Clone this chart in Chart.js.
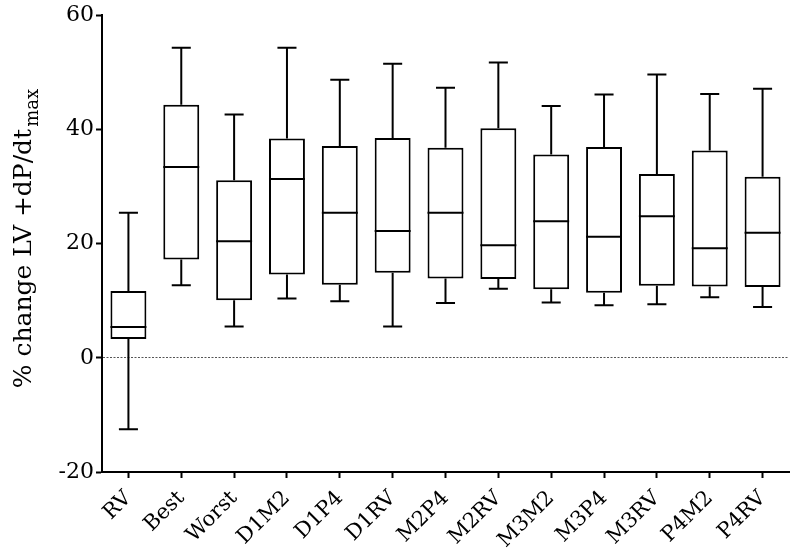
<!DOCTYPE html>
<html>
<head>
<meta charset="utf-8">
<script src="https://cdn.jsdelivr.net/npm/chart.js@4/dist/chart.umd.min.js"></script>
<style>
  html, body { margin: 0; padding: 0; background: #fff; }
  #wrap { width: 796px; height: 549px; }
</style>
</head>
<body>
<div id="wrap"><canvas id="myChart" width="796" height="549"></canvas></div>
<script>
// groups on the x axis
var categories = ["RV", "Best", "Worst", "D1M2", "D1P4", "D1RV", "M2P4", "M2RV", "M3M2", "M3P4", "M3RV", "P4M2", "P4RV"];

// box plot values (% change)
var maxVals = [25.4, 54.3, 42.6, 54.3, 48.7, 51.5, 47.3, 51.7, 44.1, 46.1, 49.6, 46.2, 47.1];
var q3Vals  = [11.7, 44.3, 31.1, 38.4, 37.1, 38.5, 36.8, 40.2, 35.6, 36.9, 32.2, 36.3, 31.7];
var medVals = [5.4, 33.4, 20.4, 31.3, 25.4, 22.2, 25.4, 19.7, 23.9, 21.2, 24.8, 19.2, 21.9];
var q1Vals  = [3.3, 17.2, 10.1, 14.6, 12.8, 14.9, 13.9, 13.8, 12.0, 11.4, 12.6, 12.5, 12.4];
var minVals = [-12.5, 12.7, 5.5, 10.4, 9.9, 5.5, 9.6, 12.1, 9.7, 9.2, 9.4, 10.6, 8.9];

var yTicks = [-20, 0, 20, 40, 60];

var boxData = [];
for (var i = 0; i < categories.length; i++) {
    boxData.push([q1Vals[i], q3Vals[i]]);
}

// whiskers, caps and median lines, placed with the chart's own scales
var whiskerPlugin = {
    id: 'whiskers',
    afterDatasetsDraw: function(chart) {
        var ctx = chart.ctx;
        var y = chart.scales.y;
        var meta = chart.getDatasetMeta(0);
        ctx.save();
        ctx.strokeStyle = '#000';
        ctx.lineWidth = 2;
        meta.data.forEach(function(bar, i) {
            var cx = bar.x;
            var half = bar.width / 2;
            var cap = half * 0.53;
            var yMax = y.getPixelForValue(maxVals[i]);
            var yQ3 = y.getPixelForValue(q3Vals[i]);
            var yMed = y.getPixelForValue(medVals[i]);
            var yQ1 = y.getPixelForValue(q1Vals[i]);
            var yMin = y.getPixelForValue(minVals[i]);
            ctx.beginPath();
            ctx.moveTo(cx, yQ3); ctx.lineTo(cx, yMax);
            ctx.moveTo(cx - cap, yMax); ctx.lineTo(cx + cap, yMax);
            ctx.moveTo(cx, yQ1); ctx.lineTo(cx, yMin);
            ctx.moveTo(cx - cap, yMin); ctx.lineTo(cx + cap, yMin);
            ctx.moveTo(cx - half, yMed); ctx.lineTo(cx + half, yMed);
            ctx.stroke();
        });
        ctx.restore();
    }
};

// y axis title with the "max" subscript
var titlePlugin = {
    id: 'ytitle',
    afterDraw: function(chart) {
        var ctx = chart.ctx;
        var area = chart.chartArea;
        var main = '% change LV +dP/dt';
        var sub = 'max';
        ctx.save();
        ctx.fillStyle = '#000';
        ctx.font = '25px "DejaVu Serif"';
        var w1 = ctx.measureText(main).width;
        ctx.font = '18px "DejaVu Serif"';
        var w2 = ctx.measureText(sub).width;
        var total = w1 + w2;
        ctx.translate(31, (area.top + area.bottom) / 2 - 4);
        ctx.rotate(-Math.PI / 2);
        ctx.textAlign = 'left';
        ctx.textBaseline = 'alphabetic';
        ctx.font = '25px "DejaVu Serif"';
        ctx.fillText(main, -total / 2, 0);
        ctx.font = '18px "DejaVu Serif"';
        ctx.fillText(sub, -total / 2 + w1 + 2, 7);
        ctx.restore();
    }
};

var myChart = new Chart("myChart", {
    type: 'bar',
    data: {
        labels: categories,
        datasets: [{
            data: boxData,
            backgroundColor: '#fff',
            borderColor: '#000',
            borderWidth: 2,
            borderSkipped: false,
            categoryPercentage: 1.0,
            barPercentage: 0.68
        }]
    },
    options: {
        responsive: false,
        animation: false,
        layout: { padding: { left: 0, right: 7, top: 14, bottom: 0 } },
        plugins: {
            legend: { display: false },
            tooltip: { enabled: false }
        },
        scales: {
            x: {
                offset: true,
                afterFit: function(scale) {
                    scale.height = 77;
                    scale.paddingLeft = 0;
                    scale.paddingRight = 0;
                },
                border: { display: true, color: '#000', width: 2 },
                grid: {
                    offset: false,
                    drawOnChartArea: false,
                    drawTicks: true,
                    tickLength: 6,
                    tickColor: '#000',
                    tickWidth: 2
                },
                ticks: {
                    color: '#000',
                    font: { family: 'DejaVu Serif', size: 21 },
                    minRotation: 45,
                    maxRotation: 45,
                    padding: 8,
                    autoSkip: false
                }
            },
            y: {
                min: -20,
                max: 60,
                afterFit: function(scale) {
                    scale.width = 102;
                },
                afterBuildTicks: function(scale) {
                    scale.ticks = yTicks.map(function(v) { return { value: v }; });
                },
                border: { display: true, color: '#000', width: 2, dash: [2, 1.5] },
                grid: {
                    drawOnChartArea: true,
                    drawTicks: true,
                    tickLength: 6,
                    tickColor: '#000',
                    tickWidth: 2,
                    lineWidth: 1,
                    color: function(c) { return c.tick && c.tick.value === 0 ? '#555' : 'rgba(0,0,0,0)'; }
                },
                ticks: {
                    color: '#000',
                    font: { family: 'DejaVu Serif', size: 22 },
                    padding: 2
                }
            }
        }
    },
    plugins: [whiskerPlugin, titlePlugin]
});
</script>
</body>
</html>
